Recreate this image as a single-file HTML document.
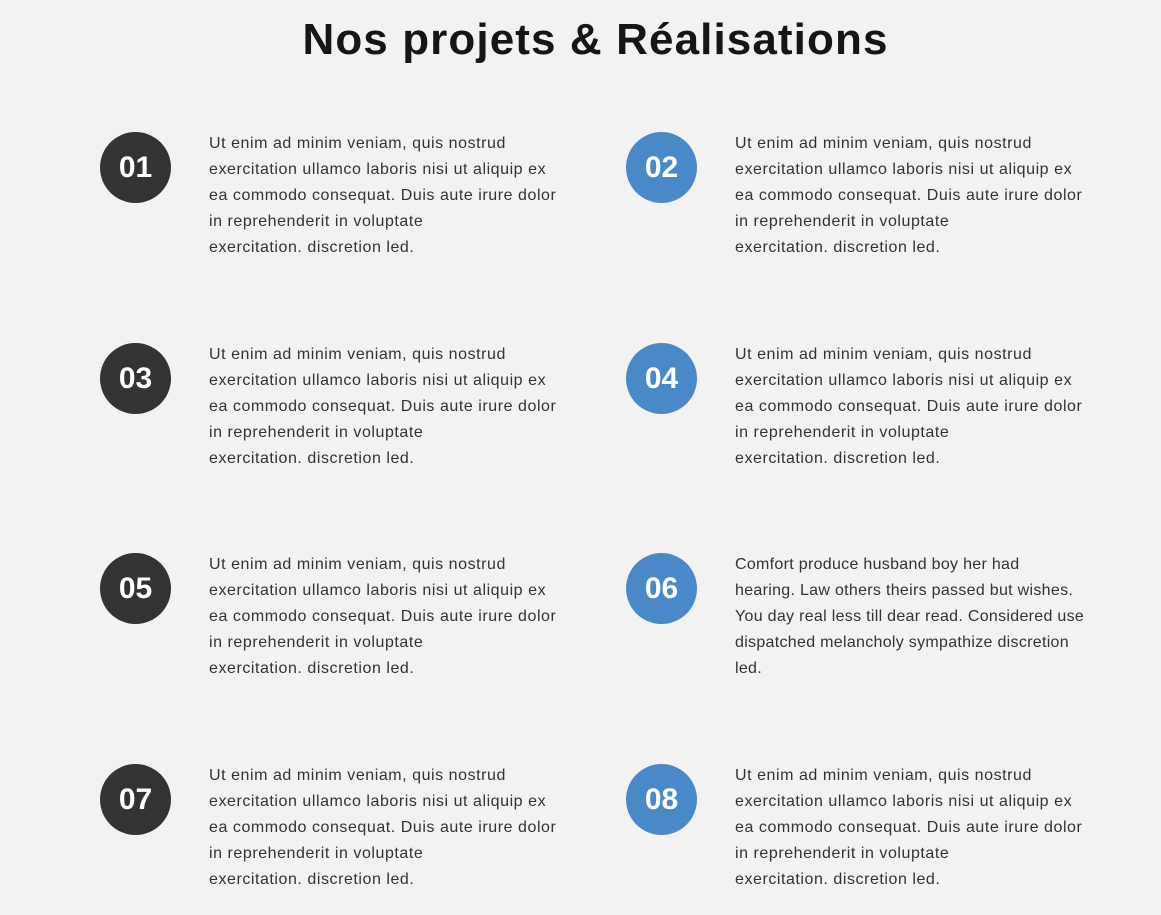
<!DOCTYPE html>
<html><head><meta charset="utf-8"><style>
body{margin:0;width:1161px;height:915px;background:#f2f2f2;font-family:"Liberation Sans",sans-serif;position:relative;overflow:hidden}
h1{position:absolute;left:30px;right:0;top:14px;margin:0;text-align:center;font-size:44px;font-weight:bold;color:#151515;line-height:52px;letter-spacing:1.1px}
.c{position:absolute;width:71px;height:71px;border-radius:50%;color:#fff;font-weight:bold;font-size:30px;line-height:71px;text-align:center}
.d{background:#333333}.b{background:#4a89c8}
.t{position:absolute;font-size:16px;line-height:26px;color:#333;white-space:nowrap;letter-spacing:0.55px}
</style></head><body>
<h1>Nos projets &amp; Réalisations</h1>

<div class="c d" style="left:100px;top:132px">01</div>
<div class="t" style="left:209px;top:131px">Ut enim ad minim veniam, quis nostrud<br>exercitation ullamco laboris nisi ut aliquip ex<br>ea commodo consequat. Duis aute irure dolor<br>in reprehenderit in voluptate<br>exercitation. discretion led.</div>
<div class="c b" style="left:626px;top:132px">02</div>
<div class="t" style="left:735px;top:131px">Ut enim ad minim veniam, quis nostrud<br>exercitation ullamco laboris nisi ut aliquip ex<br>ea commodo consequat. Duis aute irure dolor<br>in reprehenderit in voluptate<br>exercitation. discretion led.</div>

<div class="c d" style="left:100px;top:343px">03</div>
<div class="t" style="left:209px;top:342px">Ut enim ad minim veniam, quis nostrud<br>exercitation ullamco laboris nisi ut aliquip ex<br>ea commodo consequat. Duis aute irure dolor<br>in reprehenderit in voluptate<br>exercitation. discretion led.</div>
<div class="c b" style="left:626px;top:343px">04</div>
<div class="t" style="left:735px;top:342px">Ut enim ad minim veniam, quis nostrud<br>exercitation ullamco laboris nisi ut aliquip ex<br>ea commodo consequat. Duis aute irure dolor<br>in reprehenderit in voluptate<br>exercitation. discretion led.</div>

<div class="c d" style="left:100px;top:553px">05</div>
<div class="t" style="left:209px;top:552px">Ut enim ad minim veniam, quis nostrud<br>exercitation ullamco laboris nisi ut aliquip ex<br>ea commodo consequat. Duis aute irure dolor<br>in reprehenderit in voluptate<br>exercitation. discretion led.</div>
<div class="c b" style="left:626px;top:553px">06</div>
<div class="t" style="left:735px;top:552px;letter-spacing:0.3px">Comfort produce husband boy her had<br>hearing. Law others theirs passed but wishes.<br>You day real less till dear read. Considered use<br>dispatched melancholy sympathize discretion<br>led.</div>

<div class="c d" style="left:100px;top:764px">07</div>
<div class="t" style="left:209px;top:763px">Ut enim ad minim veniam, quis nostrud<br>exercitation ullamco laboris nisi ut aliquip ex<br>ea commodo consequat. Duis aute irure dolor<br>in reprehenderit in voluptate<br>exercitation. discretion led.</div>
<div class="c b" style="left:626px;top:764px">08</div>
<div class="t" style="left:735px;top:763px">Ut enim ad minim veniam, quis nostrud<br>exercitation ullamco laboris nisi ut aliquip ex<br>ea commodo consequat. Duis aute irure dolor<br>in reprehenderit in voluptate<br>exercitation. discretion led.</div>
</body></html>
